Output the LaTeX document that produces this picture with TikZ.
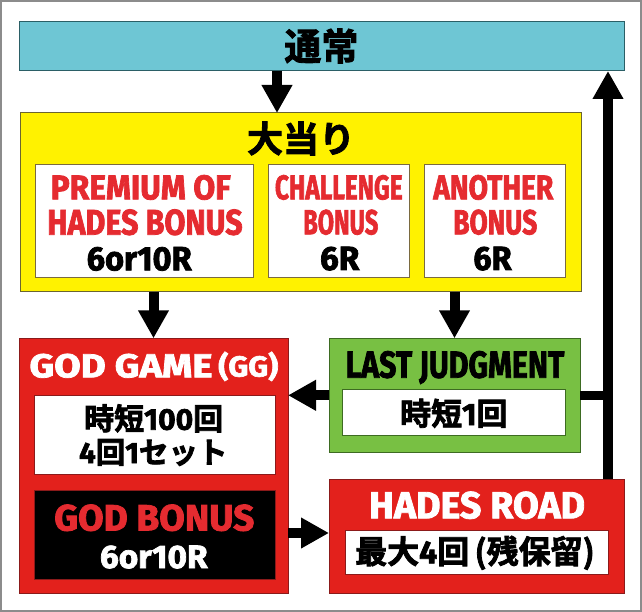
\documentclass[tikz,border=0pt]{standalone}
\usepackage{fontspec}
\usetikzlibrary{arrows.meta}
\newfontfamily\latf{Fira Sans Bold}[FakeBold=2.2]
\newfontfamily\jpf{Noto Sans CJK JP Bold}[FakeBold=2.5]
\definecolor{tealF}{HTML}{6EC6D4}
\definecolor{tealD}{HTML}{2B5F66}
\definecolor{yelF}{HTML}{FFF200}
\definecolor{yelD}{HTML}{6B6530}
\definecolor{redF}{HTML}{E3211C}
\definecolor{redD}{HTML}{8B1A1A}
\definecolor{grnF}{HTML}{78C043}
\definecolor{grnD}{HTML}{3D6B22}
\definecolor{redT}{HTML}{E52B30}
\definecolor{frameG}{HTML}{8C8C8C}
\definecolor{inD}{HTML}{7A6A40}
\newcommand\fitL[3]{\resizebox{#1pt}{#2pt}{\latf #3}}
\newcommand\jsz[1]{\jpf\fontsize{#1}{#1}\selectfont}
\begin{document}
\begin{tikzpicture}[x=1pt,y=-1pt,
  panel/.style={draw=#1, line width=1pt, inner sep=0pt, outer sep=0pt},
  lbl/.style={inner sep=0pt, outer sep=0pt, anchor=base},
  jlbl/.style={inner sep=0pt, outer sep=0pt, anchor=center},
  shaft/.style={line width=9.5pt, line cap=butt},
  arr/.style={line width=10pt, -{Triangle[width=29pt,length=28pt]}}]
\useasboundingbox (0,0) rectangle (642,612);
\draw[frameG, line width=2pt] (1,1) rectangle (641,611);
% boxes
\node[panel=tealD, fill=tealF, minimum width=605pt, minimum height=49pt] (tsujo) at (321.5,46.5) {};
\node[panel=yelD, fill=yelF, minimum width=560.5pt, minimum height=178.5pt] (oatari) at (300.75,202.25) {};
\node[panel=inD, fill=white, minimum width=218.5pt, minimum height=112pt] (b1) at (144.25,221) {};
\node[panel=inD, fill=white, minimum width=141pt, minimum height=112pt] (b2) at (338.8,221) {};
\node[panel=inD, fill=white, minimum width=141pt, minimum height=112pt] (b3) at (494.5,221) {};
\node[panel=redD, fill=redF, minimum width=269pt, minimum height=255pt] (gg) at (153.5,465.8) {};
\node[panel=redD, fill=white, minimum width=241pt, minimum height=78.6pt] (ggw) at (154.5,435) {};
\node[panel=redD, fill=black, minimum width=241pt, minimum height=89pt] (ggb) at (154.5,534.5) {};
\node[panel=grnD, fill=grnF, minimum width=251pt, minimum height=114pt] (lj) at (454.5,395.3) {};
\node[panel=grnD, fill=white, minimum width=223.4pt, minimum height=46.7pt] (ljw) at (454,412.35) {};
\node[panel=redD, fill=redF, minimum width=295pt, minimum height=114.3pt] (hr) at (476.5,536.15) {};
\node[panel=redD, fill=white, minimum width=263.3pt, minimum height=44.3pt] (hrw) at (476.65,552.15) {};
% texts
\node[jlbl] (tsujoT) at (321.4,46) {\jsz{37}通常};
\node[jlbl] (oatT) at (301,138.5) {\jsz{36}大当り};
\node[lbl, text=redT] (p1) at (140.7,199.3) {\fitL{180}{24.3}{PREMIUM OF}};
\node[lbl, text=redT] (p2) at (145,234.7) {\fitL{195.3}{25.4}{HADES BONUS}};
\node[lbl] (p3) at (139.2,270.3) {\fitL{105}{23.4}{6or10R}};
\node[lbl, text=redT] (c1) at (338.8,199.3) {\fitL{127.7}{24.3}{CHALLENGE}};
\node[lbl, text=redT] (c2) at (340.8,234.3) {\fitL{75}{24.7}{BONUS}};
\node[lbl] (c3) at (339.7,270) {\fitL{39.3}{23.3}{6R}};
\node[lbl, text=redT] (a1) at (493.3,199.3) {\fitL{120}{24.3}{ANOTHER}};
\node[lbl, text=redT] (a2) at (495.3,234.3) {\fitL{84}{24.7}{BONUS}};
\node[lbl] (a3) at (492.5,270) {\fitL{38.3}{23.3}{6R}};
\node[lbl, text=white] (gT) at (121,377.3) {\fitL{183}{23.5}{GOD GAME}};
\node[lbl, text=white] (gP) at (248.3,376.5) {\fitL{60}{24.8}{(GG)}};
\node[jlbl] (gw1) at (153.7,418.3) {\jsz{30}時短{\latf 100}回};
\node[jlbl] (gw2) at (153.3,452.5) {\jsz{29.5}{\latf 4}回{\latf 1}セット};
\node[lbl, text=redT] (gb1) at (154.3,530.5) {\fitL{200}{26}{GOD BONUS}};
\node[lbl, text=white] (gb2) at (153.8,568) {\fitL{107.7}{22.5}{6or10R}};
\node[lbl] (ljT) at (455,377.7) {\fitL{218.7}{26.7}{LAST JUDGMENT}};
\node[jlbl] (ljwT) at (453.8,413.3) {\jsz{31}時短{\latf 1}回};
\node[lbl, text=white] (hrT) at (477,518.3) {\fitL{216}{26.7}{HADES ROAD}};
\node[jlbl] (hrwT) at (475,552.8) {\jsz{32}最大{\latf 4}回\,(残保留)};
% connectors
\coordinate (xA) at (277,0);
\coordinate (yB) at (0,533);
\coordinate (xC) at (608,0);
\draw[arr] (xA |- tsujo.south) -- (xA |- oatari.north);
\draw[arr] (gg.north |- oatari.south) -- (gg.north);
\draw[arr] (lj.north |- oatari.south) -- (lj.north);
\draw[arr] (lj.west) -- (lj.west -| gg.east);
\draw[arr] (gg.east |- yB) -- (hr.west |- yB);
\draw[shaft] (lj.east) -- (lj.east -| xC);
\draw[arr] (xC |- hr.north) -- (xC |- tsujo.south);
\end{tikzpicture}
\end{document}
